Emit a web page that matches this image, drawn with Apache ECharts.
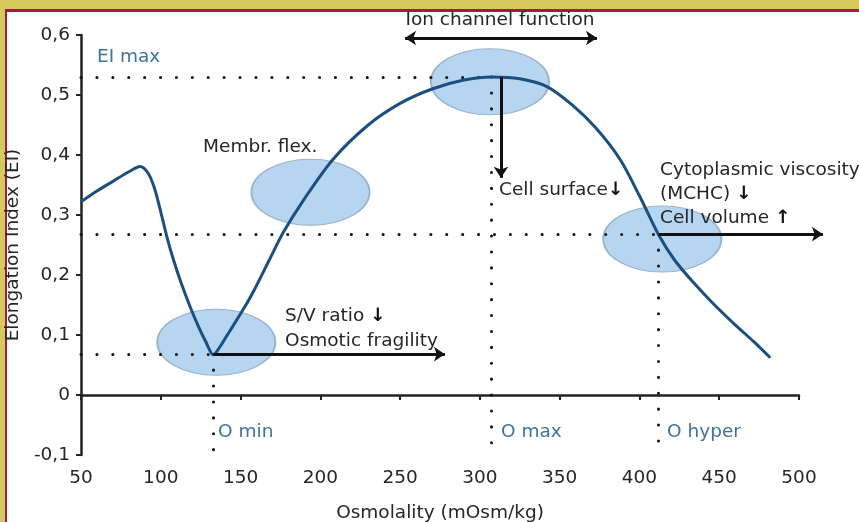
<!DOCTYPE html>
<html><head><meta charset="utf-8">
<script src="https://cdn.jsdelivr.net/npm/echarts@6/dist/echarts.min.js"></script>
<style>
html,body{margin:0;padding:0;width:859px;height:522px;overflow:hidden;background:#d6ca5e;}
#frame{position:absolute;left:5px;top:9px;right:0;bottom:0;background:#fff;border-top:3px solid #a3193f;border-left:2px solid #a3193f;}
#chart{position:absolute;left:0;top:0;width:859px;height:522px;}
</style></head><body>
<div id="frame"></div><div id="chart"></div>
<script>
// ---- data ----
const osmolality = [50, 60, 70, 80, 87, 92, 96, 100, 104, 108, 113, 119, 124, 128, 133, 137, 141, 145, 152, 158, 168, 177, 190, 208, 230, 250, 270, 290, 308, 325, 342, 358, 373, 388, 400, 412, 422, 434, 446, 460, 472, 482];
const elongationIndex = [0.322, 0.340, 0.356, 0.372, 0.381, 0.370, 0.345, 0.305, 0.262, 0.225, 0.185, 0.143, 0.112, 0.090, 0.067, 0.080, 0.097, 0.114, 0.144, 0.172, 0.225, 0.272, 0.327, 0.393, 0.450, 0.486, 0.510, 0.525, 0.530, 0.527, 0.514, 0.483, 0.444, 0.392, 0.332, 0.267, 0.225, 0.187, 0.153, 0.117, 0.088, 0.062];
const xTickValues = [50, 100, 150, 200, 250, 300, 350, 400, 450, 500];
const yTickValues = [-0.1, 0, 0.1, 0.2, 0.3, 0.4, 0.5, 0.6];

// key points: O min, O max, O hyper
const oMin = [133, 0.068];
const oMax = [307, 0.530];
const oHyper = [412, 0.268];

// highlighted regions (ellipse centres)
const regionCentres = [[134.8, 0.088], [193.8, 0.338], [306.3, 0.522], [414.3, 0.260]];

// arrows [from, to]
const doubleArrows = [[[253.1, 0.595], [373.4, 0.595]]];
const singleArrows = [
  [[133, 0.068], [278.1, 0.068]],
  [[313.2, 0.530], [313.2, 0.362]],
  [[412, 0.268], [515, 0.268]]
];

// text annotations and their anchors
const annotationTexts = [
  'EI max',
  'Membr. flex.',
  'Ion channel function',
  'Cell surface',
  'Cytoplasmic viscosity,\n(MCHC)\nCell volume',
  'S/V ratio\nOsmotic fragility',
  'O min', 'O max', 'O hyper'
];
const annotationAnchors = [
  [60, 0.563], [126.5, 0.413], [312.6, 0.625], [312, 0.342],
  [412.9, 0.335], [177.9, 0.111],
  [135.9, -0.062], [313.2, -0.062], [417.3, -0.062]
];

// ---- build ----
const ax = '#222', txt = '#262626', blueTxt = '#3f739c';
const font = 'DejaVu Sans';
const fs = 18.5;
const fmtY = v => (Math.abs(v) < 1e-9 ? '0' : v.toFixed(1).replace('.', ','));

const guideSegments = [
  [[xTickValues[0], oMax[1]], oMax], [oMax, [oMax[0], yTickValues[0]]],
  [[xTickValues[0], oHyper[1]], oHyper], [oHyper, [oHyper[0], yTickValues[0]]],
  [[xTickValues[0], oMin[1]], oMin], [oMin, [oMin[0], yTickValues[0]]]
];

const richArrow = {fontFamily: font, fontSize: fs, fontWeight: 'bold', color: '#111'};
const richT = {fontFamily: font, fontSize: fs, color: txt};
function annotationLabel(i) {
  const base = {show: true, fontFamily: font, fontSize: fs, color: txt, position: 'right', distance: 0};
  const t = annotationTexts[i];
  switch (i) {
    case 0: return Object.assign(base, {color: blueTxt});
    case 2: return Object.assign(base, {position: 'inside'});
    case 3: return Object.assign(base, {formatter: '{t|' + t + '}{a|↓}', rich: {t: richT, a: richArrow}});
    case 4: {
      const ls = t.split('\n');
      return Object.assign(base, {
        formatter: '{t|' + ls[0] + '}\n{t|' + ls[1] + ' }{a|↓}\n{t|' + ls[2] + ' }{a|↑}',
        rich: {t: Object.assign({lineHeight: 24}, richT), a: Object.assign({lineHeight: 24}, richArrow)}
      });
    }
    case 5: {
      const ls = t.split('\n');
      return Object.assign(base, {
        formatter: '{t|' + ls[0] + ' }{a|↓}\n{t|' + ls[1] + '}',
        rich: {t: Object.assign({lineHeight: 25}, richT), a: Object.assign({lineHeight: 25}, richArrow)}
      });
    }
    case 6: case 7: case 8: return Object.assign(base, {color: blueTxt});
    default: return base;
  }
}

const chart = echarts.init(document.getElementById('chart'), null, {renderer: 'canvas'});
chart.setOption({
  animation: false,
  backgroundColor: 'transparent',
  grid: {left: 81, right: 60, top: 35, bottom: 67, containLabel: false, outerBoundsMode: 'none'},
  xAxis: {
    type: 'value', min: xTickValues[0], max: xTickValues[xTickValues.length - 1], interval: 50,
    name: 'Osmolality (mOsm/kg)', nameLocation: 'middle', nameGap: 49,
    nameTextStyle: {fontFamily: font, fontSize: fs, color: txt},
    axisLine: {lineStyle: {color: ax, width: 2.5}},
    axisTick: {show: true, length: 5, lineStyle: {color: ax, width: 2}},
    axisLabel: {fontFamily: font, fontSize: fs, color: txt, margin: 14},
    splitLine: {show: false}
  },
  yAxis: {
    type: 'value', min: yTickValues[0], max: yTickValues[yTickValues.length - 1], interval: 0.1,
    name: 'Elongation Index (EI)', nameLocation: 'middle', nameGap: 57,
    nameTextStyle: {fontFamily: font, fontSize: fs, color: txt},
    axisLine: {show: true, lineStyle: {color: ax, width: 2.5}},
    axisTick: {show: true, length: 5, lineStyle: {color: ax, width: 2}},
    axisLabel: {fontFamily: font, fontSize: fs, color: txt, margin: 11, formatter: fmtY},
    splitLine: {show: false}
  },
  series: [
    {
      type: 'scatter', name: 'regions', z: 1, silent: true,
      symbol: 'circle', symbolSize: [118, 66],
      itemStyle: {color: '#b5d5f1', borderColor: '#9db3c8', borderWidth: 1.5, opacity: 1},
      data: regionCentres
    },
    {
      type: 'lines', name: 'guides', coordinateSystem: 'cartesian2d', z: 2, silent: true, clip: false,
      lineStyle: {color: '#111', width: 3, type: [0.1, 15.8], cap: 'round', opacity: 1},
      data: guideSegments.map(c => ({coords: c}))
    },
    {
      type: 'line', name: 'EI', z: 3, silent: true,
      data: osmolality.map((x, i) => [x, elongationIndex[i]]),
      smooth: 0.3, showSymbol: false, symbol: 'none',
      lineStyle: {color: '#1b4f7e', width: 3}
    },
    {
      type: 'lines', name: 'arrows2', coordinateSystem: 'cartesian2d', z: 4, silent: true, clip: false,
      symbol: ['arrow', 'arrow'], symbolSize: 11,
      lineStyle: {color: '#111', width: 3, opacity: 1},
      data: doubleArrows.map(c => ({coords: c}))
    },
    {
      type: 'lines', name: 'arrows1', coordinateSystem: 'cartesian2d', z: 4, silent: true, clip: false,
      symbol: ['none', 'arrow'], symbolSize: 11,
      lineStyle: {color: '#111', width: 3, opacity: 1},
      data: singleArrows.map(c => ({coords: c}))
    },
    {
      type: 'scatter', name: 'annotations', z: 5, silent: true, clip: false,
      symbolSize: 0, itemStyle: {opacity: 1},
      data: annotationAnchors.map((p, i) => ({value: p, label: annotationLabel(i)})),
      label: {show: true, formatter: p => annotationTexts[p.dataIndex]}
    }
  ]
});
</script>
</body></html>
